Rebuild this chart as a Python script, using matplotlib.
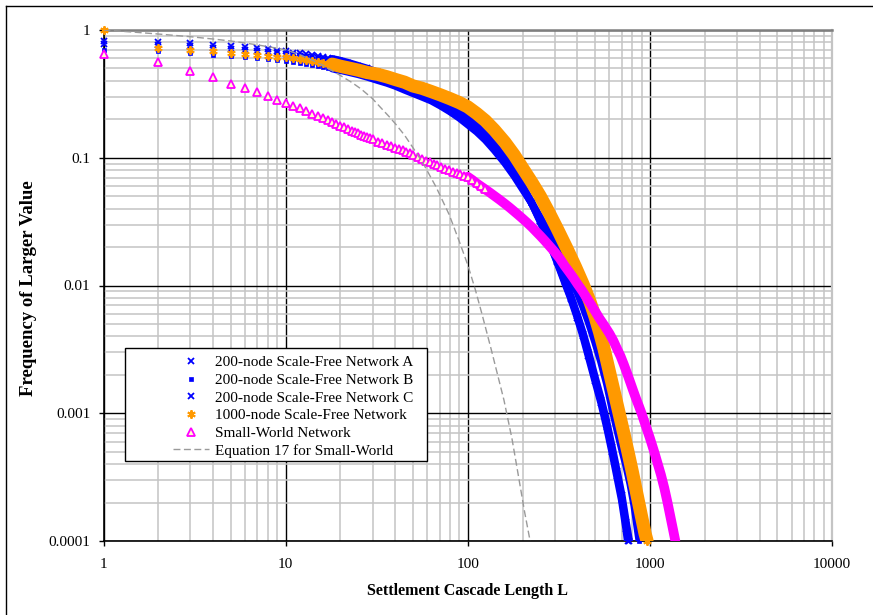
import matplotlib
matplotlib.use("Agg")
import matplotlib.pyplot as plt
from matplotlib.lines import Line2D
from matplotlib.patches import Rectangle
from matplotlib.ticker import LogLocator, NullFormatter

plt.rcParams["font.family"] = ["Liberation Serif", "DejaVu Serif"]

# ---- data ----
x_ticks = [1, 10, 100, 1000, 10000]
x_tick_labels = ["1", "10", "100", "1000", "10000"]
y_ticks = [0.0001, 0.001, 0.01, 0.1, 1]
y_tick_labels = ["0.0001", "0.001", "0.01", "0.1", "1"]

labels = ["200-node Scale-Free Network A",
          "200-node Scale-Free Network B",
          "200-node Scale-Free Network C",
          "1000-node Scale-Free Network",
          "Small-World Network",
          "Equation 17 for Small-World"]

L_a = [1, 2, 3, 4, 5, 6, 7, 8, 9, 10, 11, 12, 13, 14, 15, 16, 17, 18, 19, 20,
       22, 25, 28, 32, 36, 40, 45, 50, 56, 63, 71, 80, 90, 100,
       112, 125, 140, 160, 180, 200, 225, 250, 280, 310, 340, 370, 400, 430,
       460, 500, 540, 580, 620, 660, 700, 740, 755]
F_a = [0.82, 0.81, 0.79, 0.765, 0.75, 0.735, 0.72, 0.705, 0.69, 0.68,
       0.665, 0.655, 0.645, 0.635, 0.625, 0.615, 0.605, 0.595, 0.585, 0.575,
       0.555, 0.525, 0.50, 0.465, 0.44, 0.415, 0.39, 0.365, 0.34, 0.31, 0.28,
       0.255, 0.228, 0.205,
       0.178, 0.152, 0.126, 0.099, 0.077, 0.06, 0.044, 0.032, 0.022, 0.0152,
       0.0107, 0.0078, 0.0056, 0.0040, 0.0028, 0.0018, 0.0012, 0.00078,
       0.0005, 0.00032, 0.00021, 0.000125, 0.0001]

L_b = [1, 2, 3, 4, 5, 6, 7, 8, 9, 10, 11, 12, 13, 14, 15, 16, 17, 18, 19, 20,
       22, 25, 28, 32, 36, 40, 45, 50, 56, 63, 71, 80, 90, 100,
       112, 125, 140, 160, 180, 200, 225, 250, 280, 310, 340, 370, 400, 430,
       460, 500, 540, 580, 620, 660, 700, 740, 780, 820, 860, 875]
F_b = [0.70, 0.68, 0.66, 0.64, 0.625, 0.61, 0.60, 0.59, 0.58, 0.57,
       0.56, 0.55, 0.54, 0.53, 0.52, 0.51, 0.505, 0.50, 0.49, 0.485,
       0.47, 0.45, 0.43, 0.405, 0.385, 0.365, 0.34, 0.32, 0.30, 0.28,
       0.255, 0.23, 0.205, 0.182,
       0.16, 0.138, 0.115, 0.091, 0.072, 0.057, 0.044, 0.034, 0.0255, 0.0188,
       0.014, 0.0108, 0.0088, 0.0068, 0.0052, 0.0036, 0.0025, 0.0017, 0.0011,
       0.00075, 0.00053, 0.00039, 0.00028, 0.00019, 0.000118, 0.0001]

L_c = [1, 2, 3, 4, 5, 6, 7, 8, 9, 10, 11, 12, 13, 14, 15, 16, 17, 18, 19, 20,
       22, 25, 28, 32, 36, 40, 45, 50, 56, 63, 71, 80, 90, 100,
       112, 125, 140, 160, 180, 200, 225, 250, 280, 310, 340, 370, 400, 430,
       460, 500, 540, 580, 620, 660, 700, 740, 770]
F_c = [0.78, 0.76, 0.745, 0.725, 0.71, 0.695, 0.68, 0.67, 0.66, 0.65,
       0.64, 0.63, 0.62, 0.61, 0.60, 0.59, 0.58, 0.57, 0.56, 0.55,
       0.53, 0.50, 0.475, 0.445, 0.42, 0.40, 0.375, 0.35, 0.325, 0.30, 0.27,
       0.245, 0.22, 0.197,
       0.172, 0.147, 0.122, 0.096, 0.075, 0.059, 0.044, 0.032, 0.0222, 0.0155,
       0.011, 0.0080, 0.0058, 0.0042, 0.0030, 0.0019, 0.00128, 0.00084,
       0.00054, 0.00035, 0.00023, 0.00014, 0.0001]

L_sf1000 = [1, 2, 3, 4, 5, 6, 7, 8, 9, 10, 11, 12, 13, 14, 15, 16, 17, 18, 19, 20,
            22, 25, 28, 32, 36, 40, 45, 50, 56, 63, 71, 80, 90, 100,
            112, 125, 140, 160, 180, 200, 225, 250, 280, 310, 350, 390, 430,
            470, 500, 530, 560, 600, 640, 680, 720, 760, 800, 850, 900, 940, 965]
F_sf1000 = [1.0, 0.72, 0.70, 0.68, 0.665, 0.65, 0.64, 0.63, 0.62, 0.61,
            0.60, 0.59, 0.58, 0.57, 0.56, 0.55, 0.545, 0.54, 0.53, 0.52,
            0.505, 0.485, 0.465, 0.45, 0.43, 0.41, 0.39, 0.365, 0.35, 0.33,
            0.31, 0.29, 0.27, 0.25,
            0.222, 0.195, 0.165, 0.132, 0.105, 0.083, 0.064, 0.05, 0.037, 0.0278,
            0.0195, 0.014, 0.0102, 0.0074, 0.0057, 0.0043, 0.0032, 0.0021, 0.00142,
            0.00098, 0.00069, 0.00049, 0.00035, 0.00023, 0.000155, 0.000115, 0.0001]

L_sw = [1, 2, 3, 4, 5, 6, 7, 8, 9, 10, 11, 12, 13, 14, 15, 16, 17, 18, 19, 20,
        21, 22, 23, 24, 25, 26, 27, 28, 29, 30,
        32, 34, 36, 38, 40, 42, 44, 46, 48, 50,
        53, 56, 59, 62, 65, 68, 71, 75, 79, 83, 87, 91, 95, 100,
        106, 112, 118, 125, 132, 140, 150, 160, 170, 180,
        190, 200, 212, 225, 240, 250, 265, 280, 300, 320,
        340, 360, 380, 400, 425, 450, 475, 500, 530, 560,
        600, 630, 660, 690, 720, 750, 780, 810, 840, 870,
        900, 930, 960, 1000, 1030, 1070, 1100, 1150, 1200, 1250,
        1300, 1340, 1380]
F_sw = [0.65, 0.565, 0.48, 0.43, 0.38, 0.35, 0.325, 0.304, 0.283, 0.267,
        0.255, 0.243, 0.232, 0.222, 0.213, 0.205, 0.197, 0.19, 0.184, 0.178,
        0.173, 0.168, 0.163, 0.159, 0.155, 0.151, 0.148, 0.145, 0.142, 0.139,
        0.134, 0.13, 0.126, 0.123, 0.12, 0.117, 0.114, 0.111, 0.108, 0.105,
        0.101, 0.098, 0.095, 0.092, 0.089, 0.087, 0.085, 0.082, 0.08, 0.078,
        0.076, 0.074, 0.072, 0.071,
        0.067, 0.063, 0.0598, 0.0565, 0.0535, 0.0503, 0.0468, 0.0436, 0.0407,
        0.038,
        0.0356, 0.0334, 0.031, 0.0286, 0.026, 0.0245, 0.0224, 0.0205, 0.0183,
        0.0163,
        0.0143, 0.0128, 0.0115, 0.0103, 0.0091, 0.008, 0.0071, 0.0063, 0.0055,
        0.0049,
        0.0042, 0.0037, 0.0032, 0.0028, 0.0024, 0.00205, 0.00175, 0.0015,
        0.0013, 0.00114,
        0.001, 0.00087, 0.00076, 0.00064, 0.00056, 0.00047, 0.00041, 0.00033,
        0.00026, 0.0002,
        0.000152, 0.000123, 0.0001]

L_eq = [1, 1.5, 2, 3, 4, 5, 6, 7, 8, 9, 10, 12, 14, 16, 18, 20, 23, 26, 30, 33,
        37, 40, 45, 50, 57, 67, 79, 90, 100, 110, 120, 135, 158, 175, 190, 205, 220]
F_eq = [1.0, 0.96, 0.93, 0.886, 0.85, 0.82, 0.79, 0.765, 0.74, 0.72,
        0.70, 0.64, 0.58, 0.53, 0.48, 0.44, 0.39, 0.345, 0.29, 0.25,
        0.21, 0.185, 0.15, 0.12, 0.09, 0.059, 0.036, 0.022, 0.0145, 0.0093,
        0.0059, 0.0031, 0.00127, 0.00063, 0.00032, 0.00017, 0.0001]

BLUE = "#0000ff"
ORANGE = "#ff9900"
MAGENTA = "#ff00ff"
GRAY = "#9a9a9a"

W, H = 873, 615
fig = plt.figure(figsize=(W / 100, H / 100), dpi=100)
ax = fig.add_axes([103.5 / W, 1 - 541 / H, (832 - 103.5) / W, (541 - 30) / H])
ax.set_xscale("log")
ax.set_yscale("log")
ax.set_xlim(1, 10000)
ax.set_ylim(0.0001, 1)


def band(L, F, start, color, lw, z):
    # dense runs of markers in the original merge into a solid band
    i = next(k for k, v in enumerate(L) if v >= start)
    ax.plot(L[i:], F[i:], color=color, lw=lw, solid_capstyle="round",
            solid_joinstyle="round", zorder=z)


def until(L, F, stop):
    n = sum(1 for v in L if v <= stop)
    return L[:n], F[:n]


style_a = dict(ls="none", marker="x", color=BLUE, ms=4, mew=1.3)
style_b = dict(ls="none", marker="s", color=BLUE, ms=3, mew=0.5)
style_c = dict(ls="none", marker="x", color=BLUE, ms=4, mew=1.3)
style_o = dict(ls="none", marker=(6, 2, 0), color=ORANGE, ms=6, mew=1.4)
style_m = dict(ls="none", marker="^", mfc="#ffffc8", mec=MAGENTA, ms=6, mew=1.3)
style_e = dict(color=GRAY, lw=1.0, ls=(0, (5, 2.5)))

band(L_a, F_a, 18, BLUE, 5.5, 3.0)
ax.plot(L_a, F_a, zorder=3.05, clip_on=False, **style_a)
band(L_c, F_c, 18, BLUE, 5.5, 3.1)
ax.plot(L_c, F_c, zorder=3.15, clip_on=False, **style_c)
band(L_b, F_b, 18, BLUE, 5.5, 3.2)
ax.plot(L_b, F_b, zorder=3.25, clip_on=False, **style_b)
band(L_sf1000, F_sf1000, 18, ORANGE, 9.5, 4.0)
ax.plot(L_sf1000, F_sf1000, zorder=4.05, clip_on=False, **style_o)
band(L_sw, F_sw, 100, MAGENTA, 7, 5.0)
ax.plot(*until(L_sw, F_sw, 130), zorder=5.05, clip_on=False, **style_m)
ax.plot(L_eq, F_eq, zorder=6, **style_e)

# axes look
ax.set_xticks(x_ticks, labels=x_tick_labels)
ax.set_yticks(y_ticks, labels=y_tick_labels)
ax.xaxis.set_minor_locator(LogLocator(base=10, subs=range(2, 10), numticks=20))
ax.yaxis.set_minor_locator(LogLocator(base=10, subs=range(2, 10), numticks=20))
ax.xaxis.set_minor_formatter(NullFormatter())
ax.yaxis.set_minor_formatter(NullFormatter())
ax.tick_params(which="major", direction="out", length=3.6, width=1, labelsize=11)
ax.tick_params(axis="x", which="major", pad=9)
ax.tick_params(axis="y", which="major", pad=6)
ax.tick_params(which="minor", length=0)
ax.set_axisbelow(True)
ax.grid(which="minor", color="#c4c4c4", lw=1.1)
ax.grid(which="major", color="black", lw=1.0)
for side in ("left", "bottom"):
    ax.spines[side].set_color("black")
    ax.spines[side].set_linewidth(1.2)
ax.spines["top"].set_color("#7f7f7f")
ax.spines["top"].set_linewidth(1.8)
ax.spines["right"].set_color("#c4c4c4")
ax.spines["right"].set_linewidth(1.6)

ax.set_xlabel("Settlement Cascade Length L", fontsize=11.5, fontweight="bold")
ax.set_ylabel("Frequency of Larger Value", fontsize=13.5, fontweight="bold")
ax.xaxis.set_label_coords(0.5, -(583 - 541) / (541 - 30))
ax.yaxis.set_label_coords(-(103.5 - 37) / (832 - 103.5), (541 - 288) / (541 - 30))

# legend
handles = [Line2D([], [], **style_a), Line2D([], [], **style_b),
           Line2D([], [], **style_c), Line2D([], [], **style_o),
           Line2D([], [], **style_m), Line2D([], [], **style_e)]
leg = ax.legend(handles, labels, loc="upper left",
                bbox_to_anchor=(165 / W, 1 - 348 / H),
                bbox_transform=fig.transFigure, frameon=False,
                fontsize=11, borderpad=0, labelspacing=0.26,
                handlelength=2.4, handletextpad=0.35, numpoints=1)
leg.set_zorder(10)

fig.canvas.draw()
ext = leg.get_window_extent()
right_px = ext.x1 + 14
box = Rectangle((125 / W, 1 - 461 / H), (right_px - 125) / W, 113 / H,
                transform=fig.transFigure, facecolor="white",
                edgecolor="black", lw=1.0, zorder=9, clip_on=False)
ax.add_patch(box)

# outer chart frame
fig.add_artist(Line2D([6 / W, 6 / W], [0, 1 - 6 / H], color="black", lw=1.0))
fig.add_artist(Line2D([6 / W, 1], [1 - 6 / H, 1 - 6 / H], color="black", lw=1.0))

fig.savefig("out.png", dpi=100)
